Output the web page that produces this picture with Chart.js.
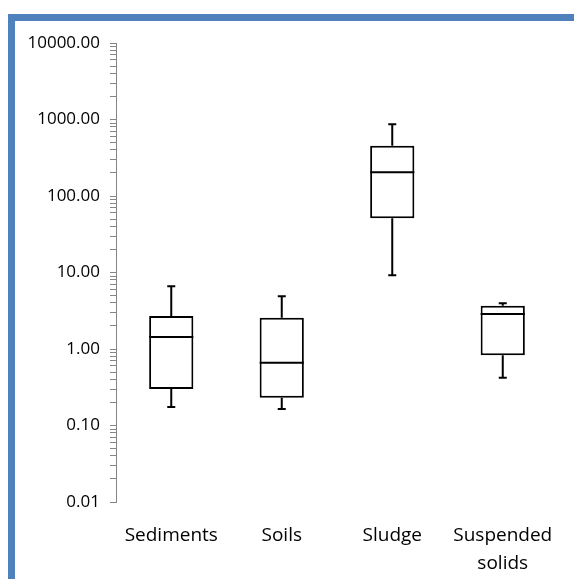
<!DOCTYPE html>
<html>
<head>
<meta charset="utf-8">
<script src="https://cdn.jsdelivr.net/npm/chart.js@4.4.0/dist/chart.umd.min.js"></script>
<style>
  html, body { margin: 0; padding: 0; background: #fff; }
  #frame { position: absolute; left: 8px; top: 14px; width: 566px; height: 565px;
           border-top: 7px solid #4f81bd; border-left: 7px solid #4f81bd; box-sizing: border-box; }
  #wrap { position: absolute; left: 0; top: 0; width: 574px; height: 579px; }
</style>
</head>
<body>
<div id="frame"></div>
<div id="wrap"><canvas id="boxChart" width="574" height="579"></canvas></div>
<script>
const categories = ['Sediments', 'Soils', 'Sludge', ['Suspended', 'solids']];
const minValues    = [0.175, 0.164, 9.2, 0.42];
const q1Values     = [0.30, 0.23, 51, 0.83];
const medianValues = [1.43, 0.66, 205, 2.87];
const q3Values     = [2.7, 2.57, 453, 3.68];
const maxValues    = [6.6, 4.9, 868, 3.96];

const yMajorTicks = [0.01, 0.1, 1, 10, 100, 1000, 10000];
const yTickLabels = ['0.01', '0.10', '1.00', '10.00', '100.00', '1000.00', '10000.00'];

// minor ticks 2..9 in every decade
const yAllTicks = [];
yMajorTicks.forEach((m, i) => {
  yAllTicks.push(m);
  if (i < yMajorTicks.length - 1) {
    for (let k = 2; k <= 9; k++) yAllTicks.push(+(m * k).toPrecision(6));
  }
});

// whiskers, caps and median line drawn on the bar boxes
const boxWhiskers = {
  id: 'boxWhiskers',
  afterDatasetsDraw(chart) {
    const ctx = chart.ctx;
    const y = chart.scales.y;
    const bars = chart.getDatasetMeta(0).data;
    ctx.save();
    ctx.strokeStyle = '#000';
    ctx.lineWidth = 2;
    categories.forEach((c, i) => {
      const cx = bars[i].x;
      const half = bars[i].width / 2;
      const yMin = y.getPixelForValue(minValues[i]);
      const yQ1 = y.getPixelForValue(q1Values[i]);
      const yMed = y.getPixelForValue(medianValues[i]);
      const yQ3 = y.getPixelForValue(q3Values[i]);
      const yMax = y.getPixelForValue(maxValues[i]);
      ctx.beginPath();
      ctx.moveTo(cx, yQ1); ctx.lineTo(cx, yMin);
      ctx.moveTo(cx - 4, yMin); ctx.lineTo(cx + 4, yMin);
      ctx.moveTo(cx, yQ3); ctx.lineTo(cx, yMax);
      ctx.moveTo(cx - 4, yMax); ctx.lineTo(cx + 4, yMax);
      ctx.moveTo(cx - half, yMed); ctx.lineTo(cx + half, yMed);
      ctx.stroke();
    });
    ctx.restore();
  }
};

const ctx = document.getElementById('boxChart').getContext('2d');
new Chart(ctx, {
  type: 'bar',
  data: {
    labels: categories,
    datasets: [{
      data: q1Values.map((v, i) => [v, q3Values[i]]),
      backgroundColor: '#ffffff',
      borderColor: '#000000',
      borderWidth: 2,
      borderSkipped: false,
      barPercentage: 0.4,
      categoryPercentage: 1
    }]
  },
  options: {
    responsive: false,
    animation: false,
    layout: { padding: { top: 43, right: 16, left: 0, bottom: 0 } },
    plugins: { legend: { display: false }, tooltip: { enabled: false } },
    scales: {
      x: {
        grid: { display: false },
        border: { display: false },
        ticks: {
          color: '#000',
          font: { family: 'Open Sans', size: 19, lineHeight: 1.45 },
          padding: 12,
          maxRotation: 0
        },
        afterFit(scale) { scale.height = 77; }
      },
      y: {
        type: 'logarithmic',
        min: 0.01,
        max: 10000,
        border: { color: '#868686', width: 1 },
        grid: { drawOnChartArea: false, drawTicks: true, tickLength: 6, tickColor: '#868686' },
        ticks: {
          autoSkip: false,
          color: '#000',
          padding: 10,
          font: { family: 'Open Sans', size: 17 },
          callback(value) {
            const idx = yMajorTicks.indexOf(value);
            return idx >= 0 ? yTickLabels[idx] : '';
          }
        },
        afterBuildTicks(scale) { scale.ticks = yAllTicks.map(v => ({ value: v })); },
        afterFit(scale) { scale.width = 116; }
      }
    }
  },
  plugins: [boxWhiskers]
});
</script>
</body>
</html>
